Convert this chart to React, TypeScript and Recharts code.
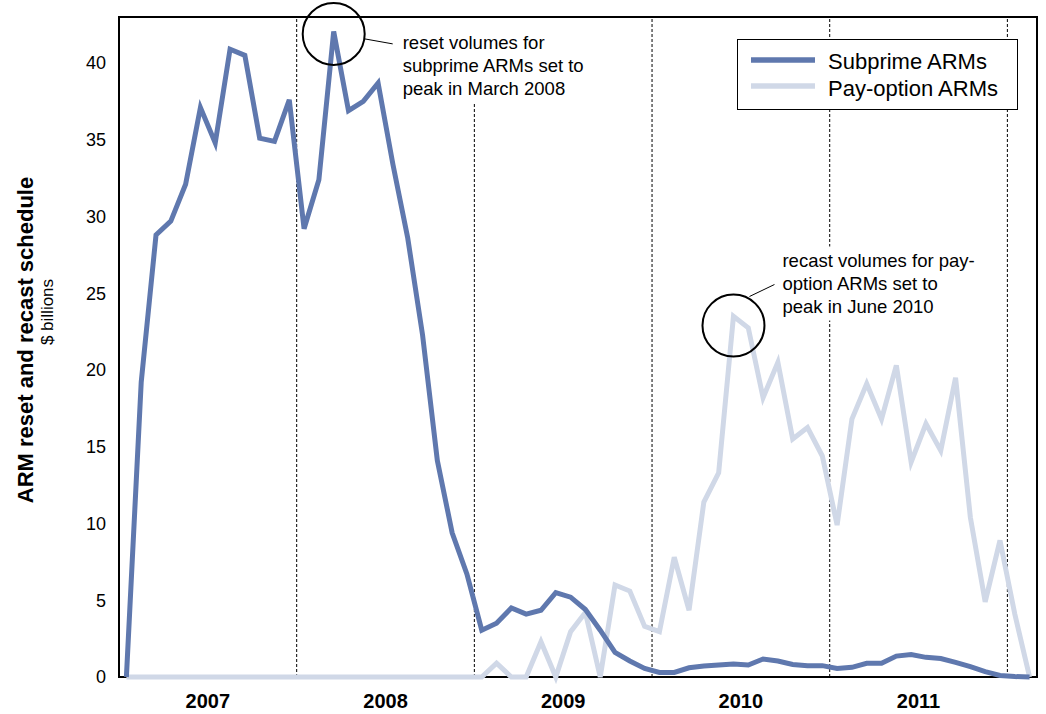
import React from 'react';
import {
  LineChart,
  Line,
  XAxis,
  YAxis,
  ReferenceLine,
  ReferenceArea,
  ReferenceDot,
  Legend,
} from 'recharts';

const FONT = "'Liberation Sans', Arial, Helvetica, sans-serif";

const yearLabels = ['2007', '2008', '2009', '2010', '2011'];
const monthNames = ['Jan', 'Feb', 'Mar', 'Apr', 'May', 'Jun', 'Jul', 'Aug', 'Sep', 'Oct', 'Nov', 'Dec'];
const monthCount = 62; // Jan 2007 .. Feb 2012

// $ billions, monthly
const subprime = [
  0, 19.2, 28.8, 29.7, 32.1, 37.1, 34.8, 40.9, 40.5, 35.1, 34.9, 37.6,
  29.2, 32.4, 42.05, 36.9, 37.5, 38.7, 33.4, 28.6, 22.3, 14.1, 9.4, 6.7,
  3.05, 3.5, 4.5, 4.1, 4.35, 5.5, 5.2, 4.4, 3.05, 1.6, 1.04, 0.56,
  0.3, 0.3, 0.6, 0.71, 0.78, 0.84, 0.78, 1.17, 1.04, 0.82, 0.74, 0.74,
  0.56, 0.63, 0.89, 0.89, 1.36, 1.47, 1.28, 1.2, 0.95, 0.67, 0.35, 0.1,
  0.03, 0,
];

const payOption = [
  0, 0, 0, 0, 0, 0, 0, 0, 0, 0, 0, 0,
  0, 0, 0, 0, 0, 0, 0, 0, 0, 0, 0, 0,
  0, 0.9, 0, 0, 2.3, 0, 2.95, 4.2, 0, 6.0, 5.6, 3.3,
  2.95, 7.8, 4.35, 11.4, 13.3, 23.5, 22.75, 18.2, 20.5, 15.5, 16.25, 14.4,
  9.9, 16.8, 19.1, 16.8, 20.3, 14.0, 16.5, 14.75, 19.5, 10.4, 4.9, 8.9,
  4.1, 0,
];

const yTicks = [0, 5, 10, 15, 20, 25, 30, 35, 40];

const SUBPRIME_COLOR = '#5f78ae';
const PAYOPT_COLOR = '#d0d8e7';

const seriesNames = ['Subprime ARMs', 'Pay-option ARMs'];

const months = [...yearLabels, '2012']
  .flatMap((y) => monthNames.map((m) => `${m} ${y}`))
  .slice(0, monthCount);

// x = middle of each month slot
const data = months.map((m, i) => ({
  month: m,
  x: i + 0.5,
  subprime: subprime[i],
  payOption: payOption[i],
}));

const yearTicks = yearLabels.map((_, i) => i * 12 + 6);
const yearBounds = [12, 24, 36, 48, 60];

const annotations = [
  {
    month: 14, // Mar 2008
    y: 41.9,
    lines: ['reset volumes for', 'subprime ARMs set to', 'peak in March 2008'],
    lead: [31, 5, 59, 10],
    textDx: 69,
    textDy: [15, 38, 61],
    box: [62, -15, 200, 84],
  },
  {
    month: 41, // Jun 2010
    y: 22.9,
    lines: ['recast volumes for pay-', 'option ARMs set to', 'peak in June 2010'],
    lead: [16, -29, 41, -41],
    textDx: 49,
    textDy: [-59, -36, -13],
    box: [46, -79, 205, 74],
  },
];

function makeCallout(a: (typeof annotations)[number]) {
  return (props: any) => {
    const { cx, cy, r } = props;
    return (
      <g>
        <rect x={cx + a.box[0]} y={cy + a.box[1]} width={a.box[2]} height={a.box[3]} fill="#fff" />
        <circle cx={cx} cy={cy} r={r} fill="none" stroke="#000" strokeWidth={2} />
        <line
          x1={cx + a.lead[0]}
          y1={cy + a.lead[1]}
          x2={cx + a.lead[2]}
          y2={cy + a.lead[3]}
          stroke="#000"
          strokeWidth={1}
        />
        {a.lines.map((t, i) => (
          <text key={t} x={cx + a.textDx} y={cy + a.textDy[i]} fontSize={18.5} fontFamily={FONT} fill="#000">
            {t}
          </text>
        ))}
      </g>
    );
  };
}

function AxisTitle() {
  return (
    <g fontFamily={FONT} fill="#000">
      <text x={33} y={340} transform="rotate(-90, 33, 340)" textAnchor="middle" fontSize={22} fontWeight="bold">
        ARM reset and recast schedule
      </text>
      <text x={53} y={312} transform="rotate(-90, 53, 312)" textAnchor="middle" fontSize={17}>
        $ billions
      </text>
    </g>
  );
}

function LegendBox({ payload }: any) {
  const items = [...(payload || [])].sort(
    (a: any, b: any) => seriesNames.indexOf(a.value) - seriesNames.indexOf(b.value)
  );
  return (
    <svg width={281} height={71} style={{ display: 'block' }}>
      <rect x={0.5} y={0.5} width={280} height={70} fill="#fff" stroke="#000" strokeWidth={1} />
      {items.map((it: any, i: number) => (
        <g key={it.value}>
          <line x1={14} x2={78} y1={21 + i * 26} y2={21 + i * 26} stroke={it.color} strokeWidth={5.5} />
          <text x={91} y={30 + i * 27} fontSize={22} fontFamily={FONT} fill="#000">
            {it.value}
          </text>
        </g>
      ))}
    </svg>
  );
}

export default function App() {
  return (
    <div style={{ position: 'absolute', left: 0, top: 0, width: 1046, height: 714, background: '#fff' }}>
      <LineChart width={1046} height={714} data={data} margin={{ top: 17, right: 9, bottom: 0, left: 0 }}>
        <XAxis
          dataKey="x"
          type="number"
          domain={[0, monthCount]}
          ticks={yearTicks}
          interval={0}
          tickFormatter={(v: number) => yearLabels[Math.floor(v / 12)]}
          axisLine={false}
          tickLine={false}
          tickSize={0}
          tickMargin={17}
          height={37}
          tick={{ fontSize: 20, fontWeight: 'bold', fill: '#000', fontFamily: FONT }}
        />
        <YAxis
          type="number"
          domain={[0, 43]}
          ticks={yTicks}
          interval={0}
          width={119}
          axisLine={false}
          tickLine={false}
          tickSize={0}
          tickMargin={13}
          tick={{ fontSize: 18, fill: '#000', fontFamily: FONT }}
          label={{ content: () => <AxisTitle /> }}
        />
        {yearBounds.map((b) => (
          <ReferenceLine key={b} x={b} stroke="#000" strokeWidth={1} strokeDasharray="3 2" />
        ))}
        <Line
          type="linear"
          dataKey="payOption"
          name="Pay-option ARMs"
          stroke={PAYOPT_COLOR}
          strokeWidth={5}
          dot={false}
          activeDot={false}
          isAnimationActive={false}
        />
        <Line
          type="linear"
          dataKey="subprime"
          name="Subprime ARMs"
          stroke={SUBPRIME_COLOR}
          strokeWidth={5}
          dot={false}
          activeDot={false}
          isAnimationActive={false}
        />
        <ReferenceArea x1={0} x2={monthCount} y1={0} y2={43} fill="none" stroke="#000" strokeWidth={2} />
        {annotations.map((a) => (
          <ReferenceDot
            key={a.month}
            x={a.month + 0.5}
            y={a.y}
            r={31}
            ifOverflow="visible"
            shape={makeCallout(a)}
          />
        ))}
        <Legend
          layout="horizontal"
          verticalAlign="middle"
          align="center"
          content={<LegendBox />}
          wrapperStyle={{ left: 737, top: 39, width: 281, height: 71 }}
        />
      </LineChart>
    </div>
  );
}
